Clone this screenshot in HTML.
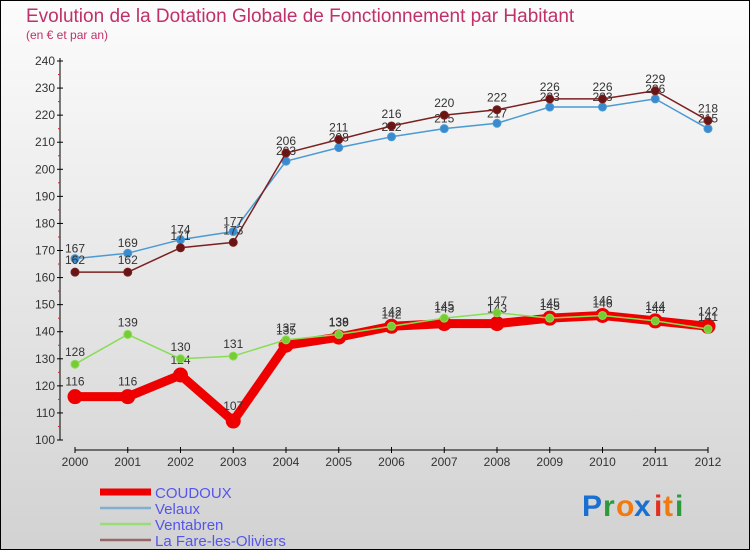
<!DOCTYPE html>
<html><head><meta charset="utf-8"><style>
body{margin:0;width:750px;height:550px;overflow:hidden;font-family:"Liberation Sans",sans-serif}
svg{display:block}
</style></head><body>
<svg id="c" width="750" height="550" xmlns="http://www.w3.org/2000/svg">
<defs><linearGradient id="bg" x1="0" y1="0" x2="0" y2="1"><stop offset="0" stop-color="#fcfcfc"/><stop offset="1" stop-color="#d2d2d2"/></linearGradient></defs>
<rect x="0.5" y="0.5" width="749" height="549" fill="url(#bg)" stroke="#000"/>
<text x="26" y="22" font-size="19" fill="#c0306a">Evolution de la Dotation Globale de Fonctionnement par Habitant</text>
<text x="26" y="39" font-size="12" fill="#c0306a">(en € et par an)</text>
<g id="axes"></g><g id="series"></g><g id="legend"></g>
<g font-size="30" font-weight="bold" font-family="Liberation Sans, sans-serif">
<text x="582" y="516" fill="#1a6fd0">P</text><text x="603" y="516" fill="#2a9a3a">r</text><text x="616" y="516" fill="#f07a10">o</text><text x="634" y="516" fill="#1a6fd0">x</text><text x="654" y="516" fill="#e03020">i</text><text x="663" y="516" fill="#f07a10">t</text><text x="675" y="516" fill="#2a9a3a">i</text>
</g>
</svg>
<script>
const years=[2000,2001,2002,2003,2004,2005,2006,2007,2008,2009,2010,2011,2012];
const coudoux=[116,116,124,107,135,138,142,143,143,145,146,144,142];
const velaux=[167,169,174,177,203,208,212,215,217,223,223,226,215];
const ventabren=[128,139,130,131,137,139,142,145,147,145,146,144,141];
const fare=[162,162,171,173,206,211,216,220,222,226,226,229,218];
const yTicks=[100,110,120,130,140,150,160,170,180,190,200,210,220,230,240];
const NS="http://www.w3.org/2000/svg";
const x=i=>75+i*52.75;
const y=v=>440-(v-100)*(379/140);
function mk(t,a,p){const e=document.createElementNS(NS,t);for(const k in a)e.setAttribute(k,a[k]);p.appendChild(e);return e;}
const ax=document.getElementById('axes');
const yl=mk('line',{x1:60,y1:58,x2:60,y2:440,stroke:'#000'},ax);


yTicks.forEach(v=>{
 mk('line',{x1:57,x2:63,y1:y(v),y2:y(v),stroke:'#000'},ax);
 if(v<240)mk('line',{x1:58,x2:60,y1:y(v+5),y2:y(v+5),stroke:'#e02020'},ax);
 const t=mk('text',{x:55,y:y(v)+4,'font-size':12,fill:'#333','text-anchor':'end'},ax);t.textContent=v;
 
 
});
const xl=mk('line',{x1:75,y1:450,x2:x(12),y2:450,stroke:'#000'},ax);


years.forEach((yr,i)=>{
 mk('line',{x1:x(i),x2:x(i),y1:447,y2:453,stroke:'#000'},ax);
 const t=mk('text',{x:x(i),y:466,'font-size':12,fill:'#333','text-anchor':'middle'},ax);t.textContent=yr;
 
 
});
const sg=document.getElementById('series');
function draw(data,color,w,r,dot,name,dy){
 const g=mk('g',{},sg);
 
 
 mk('polyline',{points:data.map((v,i)=>x(i)+','+y(v)).join(' '),fill:'none',stroke:color,'stroke-width':w,'stroke-linejoin':'round'},g);
 data.forEach((v,i)=>{
  const c=mk('circle',{cx:x(i),cy:y(v),r:r,fill:dot,stroke:color,'stroke-width':1},g);
  
  
  const t=mk('text',{x:x(i),y:y(v)+dy,'font-size':12,fill:'#333','text-anchor':'middle'},g);t.textContent=v;
  
  
 });
}
draw(coudoux,'#ee0000',9,7,'#ee0000','coudoux-series',-11);
draw(velaux,'#4a9ad4',1.5,4,'#3a8ad0','velaux-series',-6);
draw(ventabren,'#88dd55',1.5,4,'#77cc33','ventabren-series',-8);
draw(fare,'#7a2020',1.5,4,'#6a1515','fare-series',-8);
const lg=document.getElementById('legend');
const items=[['COUDOUX','#ee0000',7,'legend-coudoux'],['Velaux','#80b0d0',2.5,'legend-velaux'],['Ventabren','#99dd77',2.5,'legend-ventabren'],['La Fare-les-Oliviers','#996666',2.5,'legend-fare']];
items.forEach((it,i)=>{
 const yy=492+i*16;
 const g=mk('g',{},lg);
 
 
 mk('line',{x1:100,x2:151,y1:yy,y2:yy,stroke:it[1],'stroke-width':it[2]},g);
 const t=mk('text',{x:155,y:yy+6,'font-size':15,fill:'#5555ee'},g);t.textContent=it[0];
});
</script>
</body></html>
